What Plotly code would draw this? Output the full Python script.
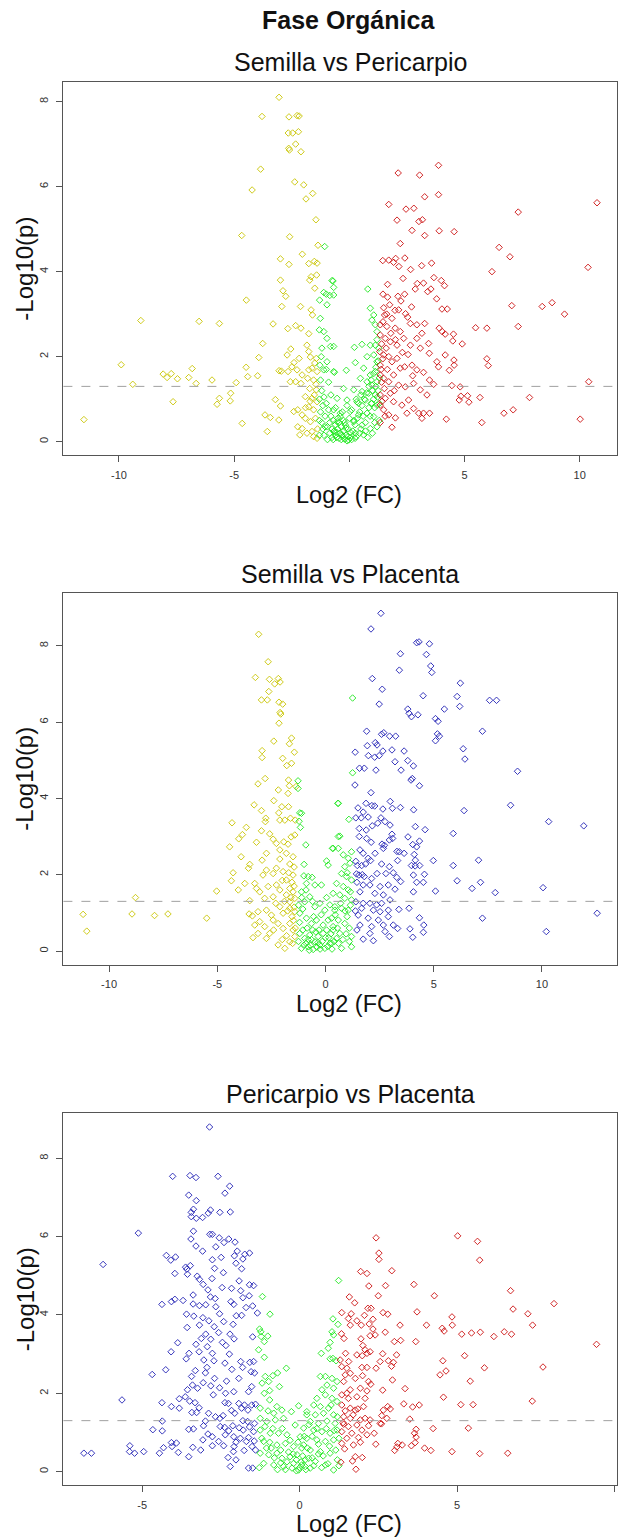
import plotly.graph_objects as go

# ---------------- data (log2 FC, -log10 p) ----------------
P1_YELLOW = [(-3.05,8.10),(-3.79,7.65),(-2.62,7.64),(-2.27,7.67),(-2.18,7.66),(-2.65,7.26),(-2.46,7.26),(-2.21,7.29),
(-2.33,7.00),(-2.63,6.90),(-2.60,6.86),(-2.10,6.82),(-3.85,6.41),(-4.22,5.92),(-2.37,6.11),(-1.98,6.04),(-1.88,5.71),
(-1.59,5.84),(-1.45,5.22),(-4.67,4.85),(-2.59,4.82),(-1.36,4.62),(-2.04,4.41),(-2.99,4.30),(-2.62,4.17),(-1.76,4.19),
(-1.52,4.24),(-1.40,4.20),(-2.99,3.80),(-1.72,3.80),(-1.66,3.88),(-1.42,3.92),(-2.88,3.55),(-2.76,3.42),(-1.50,3.61),
(-2.93,3.18),(-2.12,3.18),(-4.47,3.33),(-1.66,3.10),(-1.60,2.98),(-2.67,2.66),(-2.33,2.73),(-2.10,2.67),(-1.76,2.54),
(-3.31,2.77),(-9.05,2.85),(-6.52,2.83),(-5.64,2.78),(-3.76,2.31),(-3.93,1.98),(-4.48,1.75),(-4.91,1.39),(-9.90,1.81),
(-9.40,1.35),(-8.08,1.59),(-7.91,1.51),(-7.73,1.60),(-7.46,1.48),(-6.97,1.51),(-6.82,1.72),(-6.65,1.37),(-5.96,1.45),
(-4.41,1.53),(-3.98,1.55),(-7.65,0.94),(-5.74,0.88),(-5.64,1.02),(-5.17,0.96),(-5.15,1.14),(-4.65,0.43),(-11.52,0.52),
(-3.66,0.63),(-3.43,0.57),(-3.56,0.24),(-3.06,0.51),(-3.21,0.99),(-2.99,0.84),(-3.05,1.67),(-2.95,1.66),(-2.70,2.04),
(-2.54,2.18),(-2.40,1.86),(-2.49,1.76),(-2.66,1.65),(-2.27,1.69),(-2.18,1.96),(-1.84,2.27),(-1.76,2.12),(-1.69,1.99),
(-1.43,1.96),(-1.62,1.73),(-1.40,1.65),(-2.05,1.57),(-1.81,1.49),(-1.55,1.45),(-2.33,1.41),(-2.10,1.37),(-1.72,1.25),
(-1.43,1.22),(-1.91,1.06),(-1.62,1.02),(-1.40,0.94),(-2.41,0.71),(-2.24,0.75),(-2.05,0.63),(-1.76,0.82),(-1.55,0.75),
(-1.91,0.55),(-1.69,0.47),(-1.47,0.55),(-2.24,0.35),(-2.05,0.31),(-1.84,0.20),(-1.62,0.24),(-1.55,0.12),(-1.40,0.08),
(-2.15,0.16),(-2.56,1.41),(-1.76,1.69),(-1.50,1.85),(-1.45,1.35),(-1.52,1.10),(-1.38,0.30),(-1.70,0.95),(-1.90,0.80)]

P1_GREEN = [(-1.07,4.59),(-0.75,3.79),(-0.68,3.63),(-1.11,3.51),(-1.00,3.47),(-0.85,3.44),(-1.29,3.33),(-0.97,3.22),
(-1.26,2.90),(-1.30,2.63),(-1.11,2.59),(-0.97,2.43),(-1.19,2.20),(-0.82,2.24),(-0.97,1.88),(-1.11,1.69),(-0.68,1.65),
(0.80,3.59),(0.91,3.14),(1.06,2.98),(0.98,2.86),(1.13,2.75),(1.20,2.59),(0.91,2.27),(1.13,2.27),(0.22,2.22),(0.55,2.29),
(-0.71,3.78),(-0.68,3.45),(-0.68,2.24),(0.26,1.86),(-0.13,1.68),(-0.65,1.63),(0.77,2.00),(1.06,2.04),(1.20,1.88),
(0.62,1.73),(0.91,1.57),(1.13,1.65),(0.48,1.49),(0.77,1.41),(0.98,1.33),(1.20,1.41),(-0.25,1.25),(0.19,1.22),(0.55,1.18),
(0.84,1.14),(1.13,1.10),(-0.53,1.02),(-0.10,0.98),(0.33,0.94),(0.69,0.98),(0.98,0.90),(1.20,0.86),(-0.68,0.75),
(-0.39,0.67),(0.04,0.71),(0.40,0.63),(0.77,0.67),(1.06,0.59),(-0.53,0.47),(-0.17,0.39),(0.19,0.47),(0.55,0.39),
(0.91,0.31),(-0.68,0.24),(-0.32,0.16),(-0.03,0.04),(0.26,0.20),(0.62,0.16),
(-1.25,1.45),(-1.20,1.20),(-1.10,1.05),(-1.00,0.90),(-0.90,0.75),(-0.80,0.60),(-0.70,0.50),(-0.60,0.40),(-0.50,0.30),
(-0.40,0.20),(-0.30,0.12),(-0.20,0.06),(-0.10,0.02),(-1.30,1.00),(-1.25,0.70),(-1.20,0.45),(-1.15,0.30),(-1.10,0.15),
(-1.05,0.60),(-0.95,0.35),(-0.85,0.20),(-0.75,0.10),(-0.65,0.25),(-0.55,0.10),(-0.45,0.45),(-0.35,0.35),(-0.25,0.25),
(-0.15,0.15),(-0.05,0.30),(0.05,0.10),(0.15,0.25),(0.25,0.40),(0.35,0.55),(0.45,0.70),(0.55,0.85),(0.65,1.00),
(0.75,1.15),(0.85,1.30),(0.95,1.45),(1.05,1.60),(1.15,1.75),(1.25,1.90),(1.28,2.20),(1.20,2.40),(0.10,0.05),(0.30,0.12),
(0.50,0.30),(0.70,0.45),(0.90,0.60),(1.10,0.80),(1.25,1.20),(1.20,0.35),(1.00,0.20),(0.80,0.10),(0.60,0.60),(0.40,0.90),
(-0.90,1.40),(-1.00,1.70),(-0.80,1.10),(-0.60,0.80),(-0.40,0.60),(-0.20,0.45),(0.00,0.55),(-1.28,1.80),(-1.22,2.00),
(-0.70,0.05),(-0.50,0.55),(-0.30,0.70),(-0.10,0.85),(0.10,0.75),(0.30,1.00),(0.50,1.10),(-0.95,0.05),(-0.35,0.05),
(-0.60,0.15),(0.20,0.50),(1.15,1.30),(1.05,1.00),(0.95,0.90),(-1.15,0.85),(-1.30,0.50),(-1.30,0.15),(1.30,0.50),
(1.30,0.90),(1.30,1.50),(-0.45,0.08),(-0.25,0.50),(-0.15,0.32),(0.05,0.22),(-0.55,0.22),(-0.85,0.45),(-1.05,0.35),
(0.45,0.20),(0.70,0.25),(1.10,0.45),(-0.75,0.30),(-0.05,0.12),(0.25,0.08),(0.85,0.80),(1.00,1.20),(1.22,1.05)]

P1_RED = [(3.87,6.50),(2.12,6.32),(3.05,6.27),(3.27,5.76),(3.87,5.81),(10.75,5.62),(1.71,5.58),(2.46,5.47),(2.80,5.49),
(7.33,5.40),(2.07,5.21),(3.02,5.18),(3.17,5.22),(2.72,4.97),(3.90,4.96),(4.55,4.94),(3.27,4.85),(2.21,4.66),(6.50,4.57),
(6.97,4.35),(1.45,4.26),(1.71,4.27),(1.92,4.22),(2.01,4.31),(2.41,4.32),(2.15,4.12),(2.66,4.05),(3.14,4.14),(3.57,4.20),
(6.19,4.00),(10.36,4.10),(2.33,3.84),(3.67,3.86),(3.99,3.79),(4.13,3.67),(1.66,3.70),(2.95,3.72),(3.22,3.73),(2.86,3.59),
(3.54,3.59),(3.40,3.53),(3.79,3.36),(1.46,3.47),(1.66,3.40),(2.11,3.42),(2.40,3.47),(2.24,3.31),(4.02,3.12),(4.25,3.12),
(2.70,3.17),(1.98,3.09),(2.14,3.10),(2.44,3.01),(1.75,3.22),(1.49,3.15),(7.05,3.20),(8.37,3.18),(8.80,3.27),(9.34,3.00),
(1.53,2.98),(1.85,2.90),(2.53,2.93),(2.65,2.78),(3.27,2.78),(2.93,2.75),(3.90,2.67),(4.03,2.59),(4.16,2.53),(4.52,2.53),
(5.48,2.68),(5.97,2.67),(7.33,2.71),(1.34,2.75),(1.46,2.82),(1.63,2.71),(1.99,2.67),(2.21,2.59),(2.36,2.43),(3.15,2.55),
(3.44,2.31),(4.49,2.37),(4.90,2.30),(1.34,2.51),(1.56,2.43),(1.78,2.35),(2.07,2.27),(2.65,2.27),(2.93,2.43),(3.08,2.20),
(3.47,2.08),(4.16,2.04),(5.97,1.95),(6.03,1.79),(4.55,1.80),(4.54,1.92),(4.34,1.68),(3.80,1.88),(3.87,1.76),(1.32,2.12),
(1.49,2.04),(1.71,2.00),(1.85,1.88),(2.07,1.96),(2.21,1.73),(2.40,1.76),(2.72,1.80),(2.93,1.69),(3.22,1.63),(3.48,1.45),
(3.66,1.35),(4.45,1.32),(4.81,1.29),(10.39,1.41),(1.34,1.80),(1.34,1.57),(1.49,1.49),(1.71,1.41),(1.92,1.57),(2.14,1.33),
(2.43,1.29),(2.79,1.37),(3.08,1.22),(3.37,1.10),(4.77,0.98),(4.84,1.07),(5.13,1.08),(5.19,0.93),(5.67,1.04),(7.82,1.04),
(1.34,1.10),(1.56,1.02),(1.78,1.14),(1.92,0.94),(2.28,0.86),(2.57,0.98),(2.79,0.78),(3.01,0.67),(3.22,0.67),(3.48,0.67),
(3.15,0.55),(4.21,0.53),(5.75,0.45),(6.71,0.67),(7.11,0.75),(10.02,0.53),(1.34,0.86),(1.49,0.75),(1.71,0.63),(2.00,0.56),
(1.34,0.45),(1.85,0.34),(2.50,0.67),(1.40,2.30),(1.45,1.95),(1.38,1.70),(1.52,1.25),(1.60,2.20),(1.65,1.70),(1.40,1.40),
(1.55,0.60),(1.42,0.95),(1.80,2.55),(2.00,2.40),(1.62,3.00),(2.30,2.10),(2.55,2.05),(2.75,1.55),(1.95,1.20)]

P2_YELLOW = [(-3.09,8.30),(-2.65,7.58),(-3.24,7.17),(-2.59,7.12),(-2.18,7.14),(-2.10,7.05),(-2.35,7.00),(-2.62,6.80),
(-2.96,6.58),(-2.69,6.58),(-2.15,6.52),(-1.98,6.47),(-2.10,6.25),(-2.07,6.21),(-2.15,5.97),(-2.39,5.50),(-1.57,5.58),
(-1.67,5.43),(-1.44,5.21),(-2.93,5.25),(-2.93,5.07),(-1.98,5.05),(-1.57,4.92),(-1.79,4.86),(-2.79,4.52),(-3.12,4.38),
(-1.71,4.48),(-1.67,4.33),(-2.18,4.22),(-1.73,4.13),(-1.36,4.31),(-2.39,3.94),(-3.30,3.83),(-2.96,3.68),(-2.76,3.48),
(-2.78,3.39),(-2.16,3.62),(-2.02,3.78),(-1.71,3.78),(-2.11,3.43),(-1.88,3.43),(-1.62,3.48),(-1.40,3.43),(-4.32,3.36),
(-3.66,3.24),(-3.84,3.05),(-4.01,2.94),(-2.96,3.15),(-2.58,3.07),(-2.42,2.93),(-3.19,2.85),(-2.27,2.82),(-1.93,2.86),
(-1.59,2.99),(-1.42,3.04),(-1.73,2.80),(-4.43,2.73),(-3.90,2.47),(-4.27,2.05),(-4.35,1.84),(-3.50,2.27),(-3.56,2.17),
(-2.93,2.38),(-2.73,2.56),(-2.11,2.65),(-1.81,2.56),(-1.50,2.47),(-1.65,2.28),(-2.11,2.41),(-2.27,2.17),(-2.73,2.12),
(-2.89,1.99),(-2.42,2.03),(-1.96,2.08),(-1.50,1.99),(-1.81,1.86),(-3.73,1.77),(-4.03,1.60),(-5.03,1.57),(-3.27,1.77),
(-3.19,1.64),(-3.04,1.55),(-2.65,1.69),(-2.27,1.73),(-2.11,1.60),(-1.65,1.64),(-1.50,1.55),(-1.81,1.47),(-2.42,1.42),
(-2.81,1.38),(-3.50,1.32),(-1.65,1.29),(-1.42,1.38),(-8.78,1.40),(-11.20,0.96),(-11.03,0.52),(-8.94,0.97),(-7.90,0.93),
(-7.28,0.97),(-5.49,0.86),(-3.53,0.97),(-3.38,0.92),(-3.12,1.03),(-2.73,1.07),(-2.50,0.94),(-2.11,1.16),(-1.96,0.99),
(-1.65,1.12),(-1.42,1.03),(-3.27,0.68),(-3.04,0.77),(-2.81,0.64),(-2.42,0.81),(-2.19,0.72),(-1.96,0.59),(-1.65,0.72),
(-1.50,0.55),(-3.35,0.35),(-3.12,0.46),(-2.73,0.33),(-2.58,0.46),(-2.19,0.16),(-1.88,0.07),(-1.65,0.24),(-1.42,0.38),
(-1.55,1.80),(-1.45,1.70),(-1.60,1.40),(-1.45,1.15),(-1.55,0.90),(-1.75,1.05),(-1.48,0.80),(-1.80,0.40),(-2.00,0.30),
(-1.40,0.60),(-1.70,2.05),(-1.45,2.20),(-1.90,1.30),(-2.30,1.25),(-2.00,1.85),(-1.52,0.20),(-2.40,0.55)]

P2_GREEN = [(-1.27,4.46),(-1.27,4.26),(-1.19,3.62),(-1.11,3.61),(-1.22,3.40),(-1.16,3.24),(-0.91,2.78),(-0.99,2.27),
(0.05,2.36),(0.12,2.25),(0.35,2.69),(0.59,3.87),(0.59,3.00),(-1.00,1.97),(-0.80,1.95),(-0.62,1.93),(-0.49,1.73),
(-0.19,1.73),(-0.88,1.77),(-1.11,1.55),(-0.96,1.29),(-0.73,1.42),(-0.49,1.16),(-0.26,1.25),(-0.03,1.07),(0.20,1.21),
(0.43,1.07),(-1.19,0.99),(-0.88,0.86),(-0.65,0.72),(-0.42,0.81),(-0.11,0.68),(0.12,0.81),(0.35,0.64),(-1.19,0.46),
(-0.96,0.33),(-0.73,0.42),(-0.49,0.24),(-0.26,0.16),(-0.03,0.07),(0.20,0.20),(0.51,0.33),(-1.11,0.07),(-0.80,0.11),
(-0.57,0.04),(-0.34,0.38),(-0.11,0.46),
(1.25,6.63),(1.25,4.67),(0.57,3.87),(1.08,3.45),(0.66,3.01),(0.32,2.69),(0.59,2.69),(0.82,2.52),(1.05,2.43),(0.89,2.21),
(1.13,2.30),(0.74,2.03),(0.97,1.95),(1.20,1.86),(0.51,1.77),(0.82,1.69),(1.05,1.60),(0.35,1.51),(0.66,1.47),(0.89,1.38),
(1.20,1.34),(0.43,1.16),(0.74,1.12),(1.05,1.07),(0.28,0.86),(0.59,0.81),(0.89,0.72),(1.20,0.38),(0.35,0.55),(0.66,0.46),
(0.28,0.20),(1.20,0.11),(0.74,0.07),
(-1.25,1.20),(-1.20,0.75),(-1.05,0.55),(-0.90,0.20),(-0.70,0.15),(-0.60,0.55),(-0.40,0.10),(-0.30,0.55),(-0.15,0.25),
(0.00,0.35),(0.10,0.12),(0.25,0.45),(0.40,0.25),(0.45,0.95),(0.60,0.20),(0.80,0.30),(0.95,0.45),(1.10,0.60),(1.00,0.90),
(1.15,1.20),(-1.05,1.10),(-0.85,0.60),(-0.55,0.90),(-0.20,0.95),(0.05,0.55),(-0.45,0.50),(-0.80,0.30),(-1.00,0.15),
(-0.25,0.05),(0.15,0.35),(0.55,0.60),(0.90,1.05),(1.10,0.25),(-0.65,0.30),(-0.35,0.22),(0.30,0.05),(-1.25,0.25),
(-1.10,1.40),(-0.60,1.30),(0.05,1.40),(0.70,1.25),(1.15,1.55),(-0.90,1.60),(1.00,2.05),(1.20,2.60),(-0.75,0.02)]

P2_BLUE = [(2.56,8.85),(2.10,8.44),(4.21,8.08),(4.32,8.10),(4.80,8.05),(3.46,7.79),(4.66,7.77),(4.86,7.47),(4.91,7.30),
(3.41,7.36),(2.16,7.14),(6.23,7.02),(2.62,6.86),(4.51,6.69),(6.08,6.67),(7.58,6.57),(7.90,6.57),(2.48,6.47),(6.20,6.41),
(5.49,6.34),(3.80,6.34),(3.86,6.23),(4.27,6.19),(3.97,6.14),(5.08,6.09),(5.20,6.02),(7.25,5.76),(1.90,5.76),(2.59,5.68),
(2.69,5.72),(2.96,5.63),(3.24,5.63),(5.17,5.69),(5.26,5.63),(5.08,5.51),(2.30,5.46),(1.93,5.38),(2.38,5.40),(3.07,5.27),
(3.63,5.24),(6.36,5.30),(1.37,5.21),(1.98,5.12),(2.27,5.08),(2.48,5.12),(2.65,5.24),(6.44,5.03),(3.21,4.96),(3.80,4.99),
(4.06,4.85),(1.57,4.79),(1.79,4.79),(2.33,4.74),(3.49,4.74),(8.87,4.71),(3.95,4.48),(4.01,4.52),(1.36,4.35),(4.34,4.33),
(2.10,4.15),(2.99,3.92),(1.87,3.87),(2.14,3.81),(2.27,3.80),(8.55,3.82),(1.50,3.75),(2.65,3.72),(3.09,3.74),(3.46,3.76),
(4.07,3.70),(6.40,3.68),(1.74,3.64),(1.97,3.51),(1.40,3.49),(1.65,3.49),(2.56,3.49),(2.75,3.39),(10.31,3.39),(11.93,3.28),
(1.56,3.21),(1.88,3.17),(2.16,3.28),(2.41,3.35),(2.98,3.30),(4.15,3.26),(4.60,3.18),(5.90,3.08),(1.56,3.00),(1.90,2.95),
(3.07,3.06),(3.81,2.99),(4.34,2.88),(2.11,2.85),(2.61,2.80),(2.72,2.77),(2.95,2.91),(3.10,2.95),(4.03,2.79),(4.21,2.73),
(1.59,2.65),(1.74,2.56),(2.29,2.56),(2.67,2.69),(3.30,2.61),(3.41,2.60),(3.63,2.56),(4.10,2.53),(1.97,2.43),(2.08,2.37),
(2.59,2.28),(3.33,2.37),(4.15,2.38),(4.98,2.37),(7.07,2.38),(1.47,2.24),(1.67,2.24),(1.85,2.28),(2.95,2.21),(3.97,2.24),
(4.14,2.23),(4.35,2.24),(5.90,2.24),(1.43,2.02),(1.54,1.99),(2.38,2.03),(2.79,2.03),(3.13,2.05),(4.06,1.99),(4.57,2.01),
(1.79,1.95),(2.13,1.90),(3.29,1.93),(3.47,1.82),(4.21,1.80),(4.52,1.80),(6.08,1.84),(7.16,1.80),(10.05,1.66),(6.77,1.64),
(7.84,1.53),(5.08,1.57),(1.74,1.73),(2.05,1.73),(2.52,1.69),(2.90,1.73),(3.21,1.62),(4.06,1.55),(1.59,1.55),(2.28,1.51),
(2.67,1.47),(2.98,1.34),(1.40,1.29),(1.74,1.25),(2.05,1.25),(2.36,1.21),(2.59,1.25),(1.67,1.12),(2.21,1.07),(2.52,1.03),
(2.90,1.07),(3.39,1.09),(3.86,1.12),(12.55,0.99),(1.51,0.94),(1.97,0.86),(2.44,0.81),(2.90,0.90),(4.34,0.87),(7.25,0.86),
(1.59,0.68),(2.13,0.64),(2.67,0.68),(3.13,0.68),(3.33,0.59),(3.90,0.58),(4.54,0.68),(4.52,0.49),(10.20,0.51),(1.74,0.31),
(2.21,0.27),(2.75,0.51),(2.95,0.38),(4.03,0.36),(2.05,0.46),(1.45,1.80),(1.40,2.35),(1.45,0.55),(1.38,1.05),(1.70,2.00)]

P3_BLUE = [(-2.86,8.80),(-4.03,7.54),(-3.48,7.56),(-3.29,7.51),(-2.59,7.54),(-2.22,7.29),(-2.37,7.11),(-3.52,7.06),
(-3.28,6.92),(-3.37,6.70),(-3.44,6.62),(-2.83,6.68),(-2.90,6.60),(-2.53,6.62),(-2.20,6.63),(-3.44,6.51),(-3.28,6.47),
(-3.08,6.49),(-5.12,6.09),(-6.24,5.29),(-3.37,6.14),(-3.45,5.94),(-2.85,6.06),(-2.77,6.06),(-2.55,5.97),(-2.25,5.94),
(-2.05,5.86),(-3.29,5.76),(-2.66,5.74),(-2.40,5.85),(-3.08,5.63),(-1.98,5.63),(-1.59,5.58),(-4.23,5.52),(-3.94,5.48),
(-4.09,5.40),(-2.07,5.51),(-1.74,5.55),(-2.77,5.41),(-2.49,5.47),(-1.80,5.43),(-3.62,5.22),(-3.47,5.26),(-3.58,5.17),
(-2.70,5.19),(-2.02,5.32),(-1.84,5.18),(-3.96,5.06),(-3.56,5.04),(-2.42,5.08),(-3.25,4.99),(-3.18,4.91),(-2.78,4.93),
(-3.06,4.78),(-1.92,4.87),(-1.59,4.77),(-1.46,4.75),(-2.91,4.64),(-2.46,4.70),(-2.16,4.68),(-1.87,4.62),(-3.38,4.51),
(-2.83,4.46),(-2.68,4.42),(-2.18,4.34),(-1.80,4.44),(-1.60,4.49),(-4.37,4.27),(-4.07,4.34),(-3.96,4.40),(-3.70,4.37),
(-3.38,4.28),(-3.18,4.24),(-2.98,4.26),(-2.66,4.21),(-2.09,4.27),(-1.70,4.19),(-1.49,4.23),(-3.59,4.02),(-3.36,3.97),
(-3.07,3.93),(-2.54,4.03),(-2.01,3.98),(-1.84,3.99),(-1.34,4.05),(-2.88,3.85),(-2.41,3.83),(-3.18,3.74),(-2.71,3.70),
(-2.11,3.76),(-3.57,3.68),(-2.98,3.51),(-2.57,3.55),(-2.21,3.51),(-1.49,3.44),(-3.12,3.40),(-2.82,3.38),(-2.45,3.30),
(-2.08,3.39),(-3.87,3.29),(-3.29,3.25),(-2.93,3.19),(-2.34,3.22),(-4.08,3.06),(-3.51,3.02),(-3.19,3.06),(-2.77,3.02),
(-2.23,3.00),(-3.60,2.88),(-3.04,2.85),(-2.72,2.83),(-2.37,2.77),(-1.87,2.81),(-1.58,2.79),(-1.46,2.81),(-2.94,2.66),
(-2.15,2.61),(-1.81,2.66),(-4.25,2.60),(-4.68,2.48),(-3.31,2.58),(-2.99,2.52),(-1.54,2.55),(-1.43,2.52),(-3.43,2.43),
(-2.70,2.38),(-2.32,2.31),(-3.06,2.27),(-1.93,2.38),(-3.40,2.21),(-3.24,2.13),(-2.82,2.19),(-2.54,2.14),(-1.52,2.17),
(-3.56,2.09),(-2.35,2.00),(-2.09,2.04),(-1.62,2.04),(-2.74,1.96),(-3.63,1.91),(-3.82,1.86),(-5.64,1.83),(-4.37,1.76),
(-3.49,1.80),(-3.32,1.76),(-2.37,1.76),(-2.26,1.74),(-1.93,1.74),(-1.75,1.70),(-1.52,1.70),(-1.40,1.72),(-4.07,1.66),
(-3.82,1.62),(-3.19,1.63),(-1.84,1.62),(-1.64,1.57),(-3.42,1.51),(-3.27,1.51),(-2.89,1.49),(-2.16,1.56),(-2.06,1.49),
(-2.67,1.40),(-2.43,1.43),(-4.36,1.29),(-2.99,1.29),(-2.53,1.36),(-1.80,1.30),(-1.65,1.28),(-1.43,1.23),(-3.05,1.17),
(-2.52,1.15),(-2.38,1.13),(-2.12,1.17),(-1.92,1.12),(-1.59,1.14),(-4.66,1.07),(-4.36,1.04),(-3.52,1.08),(-3.37,1.09),
(-2.25,1.04),(-1.79,1.06),(-1.46,1.02),(-2.91,0.96),(-2.77,0.89),(-2.36,0.94),(-2.09,0.89),(-1.88,0.85),(-1.62,0.87),
(-3.07,0.81),(-2.57,0.77),(-2.02,0.75),(-1.69,0.77),(-1.44,0.78),(-4.07,0.74),(-3.91,0.73),(-5.39,0.66),(-4.05,0.64),
(-3.39,0.62),(-2.77,0.66),(-2.41,0.66),(-2.08,0.64),(-1.51,0.64),(-6.85,0.47),(-6.61,0.47),(-5.40,0.51),(-5.24,0.47),
(-4.95,0.51),(-4.45,0.47),(-4.32,0.61),(-3.85,0.49),(-3.14,0.55),(-2.10,0.51),(-1.76,0.54),(-1.40,0.55),(-3.52,0.38),
(-2.27,0.36),(-2.02,0.30),(-2.20,0.13),(-1.62,0.09),(-1.49,0.09)]

P3_GREEN = [(-1.18,4.47),(-0.94,4.02),(-1.27,3.64),(-1.23,3.57),(-1.22,3.45),(-1.01,3.46),(-1.12,3.32),(-1.30,3.11),
(-1.12,2.92),(-0.42,2.64),(-0.70,2.52),(-0.85,2.45),(-1.09,2.43),(-0.98,2.30),(-1.19,2.26),(-0.64,2.17),(-0.95,2.07),
(-1.12,2.00),(-0.95,1.83),(-0.03,1.68),(-0.72,1.66),(-1.25,1.62),(-0.56,1.57),(-0.82,1.49),(-0.26,1.53),(0.23,1.45),
(-1.25,1.36),(-1.04,1.28),(-0.77,1.32),(-0.51,1.36),(-0.14,1.19),(-1.25,1.06),(-0.93,0.98),(-0.67,0.98),(-0.40,0.94),
(0.02,0.89),(-1.14,0.77),(-0.95,0.75),(-0.72,0.68),(-0.45,0.72),(-0.19,0.64),(0.13,0.68),(-1.25,0.47),(-0.98,0.43),
(-0.72,0.47),(-0.56,0.34),(-0.30,0.38),(-0.08,0.43),(-1.14,0.21),(-0.82,0.17),(-0.51,0.13),(-0.24,0.09),(-0.03,0.04),
(0.18,0.13),(0.29,0.34),(-0.19,0.21),(0.07,0.17),
(1.24,4.88),(1.06,3.90),(1.22,3.76),(1.03,3.57),(1.08,3.49),(0.97,3.30),(0.91,3.15),(0.69,3.02),(1.06,2.89),(1.16,2.83),
(0.97,2.88),(0.66,2.43),(0.82,2.43),(1.03,2.38),(1.19,2.30),(0.87,2.21),(0.71,2.09),(1.08,2.13),(0.55,1.87),(0.82,1.96),
(1.03,1.87),(1.19,1.79),(0.45,1.70),(0.66,1.66),(0.92,1.62),(0.23,1.53),(0.50,1.45),(0.76,1.49),(1.08,1.45),(0.34,1.28),
(0.60,1.23),(0.87,1.29),(1.13,1.23),(0.13,1.11),(0.45,1.06),(0.71,1.02),(0.97,0.98),(1.19,1.06),(0.23,0.85),(0.55,0.81),
(0.82,0.77),(1.08,0.81),(0.07,0.60),(0.34,0.55),(0.66,0.51),(0.97,0.47),(0.18,0.30),(0.50,0.26),(0.82,0.17),(1.08,0.04),
(0.34,0.09),
(-1.10,1.15),(-0.90,0.60),(-0.60,0.55),(-0.35,0.50),(-0.10,0.30),(0.00,0.10),(0.10,0.40),(0.25,0.60),(0.40,0.35),
(0.60,0.70),(0.75,0.40),(0.90,0.20),(1.15,0.55),(1.20,0.30),(-1.20,0.85),(-1.05,0.60),(-0.80,0.35),(-0.60,0.22),
(-0.40,0.25),(-0.20,0.45),(0.20,0.05),(0.45,0.15),(0.70,0.10),(0.95,0.65),(1.10,1.05),(1.20,1.40),(0.40,0.90),
(0.15,0.90),(-0.30,0.80),(-0.55,1.10),(-0.85,1.10),(-1.00,1.55),(0.30,1.20),(0.55,1.10),(0.85,1.10),(1.00,1.70),
(0.60,0.45),(-0.05,0.75),(-0.45,0.05),(-0.70,0.05),(-1.28,0.10),(1.25,0.15),(1.25,0.85),(-0.10,0.02),(0.05,0.25)]

P3_RED = [(2.43,5.97),(5.02,6.02),(5.65,5.88),(5.72,5.40),(2.52,5.58),(2.52,5.42),(1.94,5.11),(2.14,5.06),(2.93,5.13),
(2.20,4.74),(2.73,4.75),(3.63,4.78),(2.50,4.49),(4.28,4.49),(6.70,4.62),(1.58,4.46),(1.75,4.31),(8.08,4.29),(6.78,4.15),
(7.25,4.03),(1.34,4.06),(1.64,4.03),(2.17,4.17),(2.27,4.17),(2.65,4.06),(2.80,4.02),(3.73,4.08),(4.84,3.95),(1.55,3.91),
(1.61,3.74),(1.82,3.85),(2.06,3.99),(2.33,3.89),(2.21,3.77),(1.96,3.74),(3.19,3.74),(4.03,3.74),(4.85,3.74),(7.40,3.74),
(4.53,3.66),(4.59,3.59),(1.33,3.52),(1.41,3.40),(2.33,3.64),(2.72,3.56),(5.15,3.51),(5.46,3.54),(5.74,3.56),(6.17,3.45),
(6.50,3.57),(6.73,3.51),(1.95,3.39),(2.24,3.47),(2.40,3.49),(3.01,3.32),(3.21,3.35),(3.69,3.32),(9.43,3.25),(2.01,3.22),
(2.08,3.11),(1.82,2.98),(1.99,2.96),(2.14,3.02),(2.24,3.06),(2.64,3.01),(3.08,2.98),(1.46,3.02),(1.29,2.85),(1.56,2.81),
(2.56,2.81),(2.82,2.83),(2.98,2.79),(5.24,2.96),(4.55,2.83),(5.87,2.65),(7.73,2.67),(1.34,2.68),(1.50,2.64),(1.98,2.66),
(2.14,2.66),(2.43,2.64),(2.92,2.69),(4.46,2.47),(4.65,2.57),(1.45,2.47),(1.61,2.51),(1.40,2.30),(1.77,2.38),(2.19,2.30),
(2.26,2.23),(2.95,2.34),(5.42,2.31),(3.35,2.12),(1.61,2.09),(1.93,2.13),(2.14,2.06),(2.64,2.08),(1.34,1.96),(1.55,1.87),
(1.82,1.91),(2.08,1.87),(4.57,1.90),(7.39,1.80),(3.31,1.73),(3.59,1.65),(3.80,1.70),(5.12,1.71),(5.51,1.71),(1.34,1.70),
(1.61,1.62),(1.77,1.57),(2.03,1.66),(2.80,1.66),(2.66,1.57),(2.88,1.60),(1.40,1.40),(1.61,1.36),(1.93,1.32),(2.08,1.36),
(2.24,1.32),(2.61,1.43),(2.77,1.36),(3.50,1.34),(1.40,1.21),(1.55,1.15),(1.82,1.19),(2.19,1.17),(2.56,1.23),(2.60,1.22),
(3.70,1.08),(4.24,1.10),(5.36,1.11),(1.34,1.02),(1.66,0.98),(1.98,1.06),(2.14,0.94),(2.37,0.98),(3.65,0.98),(3.70,0.88),
(1.50,0.85),(1.87,0.87),(1.34,0.72),(1.71,0.68),(1.93,0.75),(2.42,0.70),(3.12,0.72),(3.26,0.68),(3.55,0.66),(3.67,0.74),
(3.97,0.60),(4.17,0.54),(4.84,0.51),(5.72,0.46),(6.61,0.47),(3.02,0.54),(3.09,0.63),(1.43,0.58),(1.77,0.38),(1.99,0.36),
(1.31,0.24),(1.68,0.27),(1.79,0.06),(1.45,1.55),(1.70,1.45),(1.50,2.00),(1.38,1.25),(1.85,1.60),(2.00,2.45)]

# tick labels
P1_XTICKS = [-10, -5, 0, 5, 10]
P1_XTICKTEXT = ["-10", "-5", "", "5", "10"]
P2_XTICKS = [-10, -5, 0, 5, 10]
P2_XTICKTEXT = ["-10", "-5", "0", "5", "10"]
P3_XTICKS = [-5, 0, 5, 10]
P3_XTICKTEXT = ["-5", "0", "5", "10"]
YTICKS = [0, 2, 4, 6, 8]

MAIN_TITLE = "Fase Orgánica"
PANEL_TITLES = ["Semilla vs Pericarpio", "Semilla vs Placenta", "Pericarpio vs Placenta"]
THRESHOLD = 1.30103  # -log10(0.05)

# ---------------- styling ----------------
W, H = 620, 1539
YELLOW = "#C8C400"
GREEN = "#1EE81E"
RED = "#CC1010"
BLUE = "#2020B4"
FONT = "Liberation Sans, Arial, sans-serif"

# plot boxes in pixels: (left, right, top, bottom)
BOXES = [(63.4, 617.3, 82.0, 455.3), (63.4, 617.3, 592.7, 965.0), (63.4, 617.3, 1113.3, 1485.3)]
XRANGES = [[-12.41, 11.63], [-12.11, 13.48], [-7.50, 10.09]]
YRANGES = [[-0.32, 8.46], [-0.367, 9.39], [-0.35, 9.15]]
TITLE_Y = [62.5, 573.5, 1094]
XLABEL_BOTTOM = [508.5, 1018, 1538]

fig = go.Figure()

panels = [
    [(P1_YELLOW, YELLOW), (P1_GREEN, GREEN), (P1_RED, RED)],
    [(P2_YELLOW, YELLOW), (P2_GREEN, GREEN), (P2_BLUE, BLUE)],
    [(P3_BLUE, BLUE), (P3_GREEN, GREEN), (P3_RED, RED)],
]
xticks = [(P1_XTICKS, P1_XTICKTEXT), (P2_XTICKS, P2_XTICKTEXT), (P3_XTICKS, P3_XTICKTEXT)]

for i, groups in enumerate(panels):
    n = "" if i == 0 else str(i + 1)
    for pts, col in groups:
        xs = [p[0] for p in pts]
        ys = [p[1] for p in pts]
        fig.add_trace(go.Scatter(
            x=xs, y=ys, mode="markers", xaxis="x" + n, yaxis="y" + n,
            marker=dict(symbol="diamond-open", size=5, color=col, line=dict(width=0.9, color=col)),
            showlegend=False, hoverinfo="x+y"))
    l, r, t, b = BOXES[i]
    axcommon = dict(showgrid=False, zeroline=False, showline=True, mirror=True,
                    linecolor="#555555", linewidth=1, ticks="outside", ticklen=6,
                    tickcolor="#555555", tickfont=dict(family=FONT, size=11, color="#333333"))
    fig.layout["xaxis" + n] = dict(axcommon, domain=[l / W, r / W], range=XRANGES[i],
                                   anchor="y" + n, tickmode="array",
                                   tickvals=xticks[i][0], ticktext=xticks[i][1],
                                   ticklabelstandoff=3)
    fig.layout["yaxis" + n] = dict(axcommon, domain=[1 - b / H, 1 - t / H], range=YRANGES[i],
                                   anchor="x" + n, tickmode="array", tickvals=YTICKS,
                                   tickangle=-90, ticklabelstandoff=4)
    fig.add_shape(type="line", xref="x" + n + " domain", yref="y" + n,
                  x0=0, x1=1, y0=THRESHOLD, y1=THRESHOLD,
                  line=dict(color="#A0A0A0", width=1, dash="dash"))
    fig.add_annotation(text=PANEL_TITLES[i], xref="paper", yref="paper", x=350 / W, y=1 - TITLE_Y[i] / H,
                       showarrow=False, xanchor="center", yanchor="middle", borderpad=0,
                       font=dict(family=FONT, size=25, color="#111111"))
    fig.add_annotation(text="Log2 (FC)", xref="paper", yref="paper", x=349 / W, y=1 - XLABEL_BOTTOM[i] / H,
                       showarrow=False, xanchor="center", yanchor="bottom", borderpad=0,
                       font=dict(family=FONT, size=23.5, color="#111111"))
    fig.add_annotation(text="-Log10(p)", xref="paper", yref="paper", x=25 / W, y=1 - ((t + b) / 2) / H,
                       showarrow=False, xanchor="center", yanchor="middle", textangle=-90, borderpad=0,
                       font=dict(family=FONT, size=24, color="#111111"))

fig.add_annotation(text="<b>" + MAIN_TITLE + "</b>", xref="paper", yref="paper", x=348.5 / W, y=1 - 20 / H,
                   showarrow=False, xanchor="center", yanchor="middle", borderpad=0,
                   font=dict(family=FONT, size=25, color="#111111"))

fig.update_layout(width=W, height=H, margin=dict(l=0, r=0, t=0, b=0),
                  paper_bgcolor="white", plot_bgcolor="white", showlegend=False)

fig.write_html("out.html", config={"displayModeBar": False},
               post_script="document.body.style.margin='0';document.body.style.padding='0';")
